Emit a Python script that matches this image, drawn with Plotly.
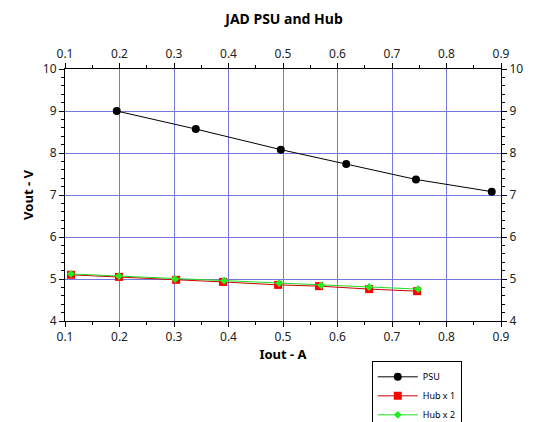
import plotly.graph_objects as go

psu_x = [0.195, 0.340, 0.496, 0.616, 0.744, 0.883]
psu_y = [9.00, 8.57, 8.08, 7.74, 7.37, 7.08]
hub1_x = [0.111, 0.199, 0.304, 0.390, 0.491, 0.566, 0.658, 0.746]
hub1_y = [5.10, 5.05, 4.98, 4.93, 4.86, 4.83, 4.76, 4.71]
hub2_x = [0.111, 0.199, 0.302, 0.392, 0.493, 0.570, 0.658, 0.748]
hub2_y = [5.12, 5.07, 5.00, 4.96, 4.90, 4.85, 4.81, 4.76]

fig = go.Figure()
fig.add_trace(go.Scatter(x=psu_x, y=psu_y, name="PSU", mode="lines+markers",
                         line=dict(color="black", width=1), marker=dict(color="black", size=8)))
fig.add_trace(go.Scatter(x=hub1_x, y=hub1_y, name="Hub x 1", mode="lines+markers",
                         line=dict(color="#cc0000", width=1), marker=dict(color="red", size=8, symbol="square")))
fig.add_trace(go.Scatter(x=hub2_x, y=hub2_y, name="Hub x 2", mode="lines+markers",
                         line=dict(color="#22dd22", width=1), marker=dict(color="#22ee22", size=6, symbol="diamond")))
fig.add_trace(go.Scatter(x=[0.1], y=[4], xaxis="x2", yaxis="y2", showlegend=False,
                         mode="markers", marker=dict(opacity=0), hoverinfo="skip"))

ax = dict(range=[0.1, 0.9], dtick=0.1, showgrid=True, gridcolor="#7777dd", gridwidth=1,
          ticks="outside", ticklen=5, tickcolor="black", linecolor="black", showline=True,
          zeroline=False, automargin=False,
          minor=dict(ticks="outside", ticklen=3, dtick=0.05, tickcolor="black"),
          tickfont=dict(size=12, color="#222"))
ay = dict(range=[4, 10], dtick=1, showgrid=True, gridcolor="#7777dd", gridwidth=1,
          ticks="outside", ticklen=5, tickcolor="black", linecolor="black", showline=True,
          zeroline=False, automargin=False,
          minor=dict(ticks="outside", ticklen=3, dtick=0.2, tickcolor="black"),
          tickfont=dict(size=12, color="#222"))

fig.update_layout(
    width=552, height=422, plot_bgcolor="white", paper_bgcolor="white",
    font=dict(family="Noto Sans", color="black"),
    margin=dict(l=57, r=59, t=61, b=109, autoexpand=False),
    title=dict(text="<b>JAD PSU and Hub</b>", x=0.5, xanchor="center", y=0.985, yanchor="top",
               font=dict(size=14)),
    xaxis=dict(**ax, title=dict(text="<b>Iout - A</b>", font=dict(size=13), standoff=2)),
    yaxis=dict(**ay, title=dict(text="<b>Vout - V</b>", font=dict(size=13), standoff=6)),
    xaxis2=dict(**{**ax, "showgrid": False}, overlaying="x", side="top", anchor="y"),
    yaxis2=dict(**{**ay, "showgrid": False}, overlaying="y", side="right", anchor="x"),
    legend=dict(x=0.91, xanchor="right", y=-0.16, yanchor="top", bordercolor="black",
                borderwidth=1, font=dict(size=9), bgcolor="white", tracegroupgap=0,
                itemwidth=40),
)
fig.write_html("out.html")
